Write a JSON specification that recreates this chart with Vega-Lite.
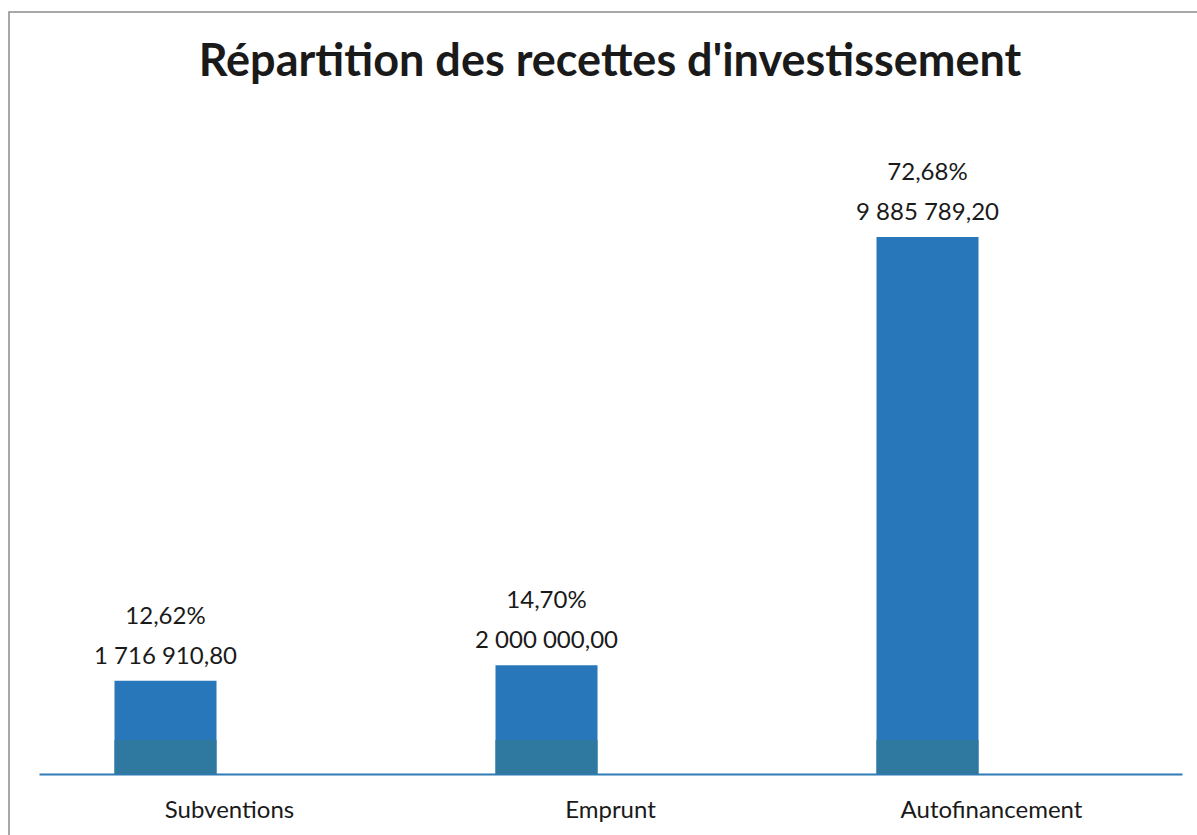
{
  "$schema": "https://vega.github.io/schema/vega-lite/v6.json",
  "width": 1197,
  "height": 835,
  "autosize": {"type": "fit", "contains": "padding"},
  "padding": {"left": 9, "top": 12, "right": -6, "bottom": -6},
  "background": "white",
  "config": {
    "view": {"stroke": "#8c8c8c", "strokeWidth": 1.5},
    "font": "Lato",
    "locale": {"number": {"decimal": ",", "thousands": " ", "grouping": [3], "currency": ["", ""]}}
  },
  "title": {
    "text": "Répartition des recettes d'investissement",
    "font": "Lato",
    "fontSize": 45,
    "fontWeight": "bold",
    "color": "#1a1a1a",
    "anchor": "middle",
    "orient": "top",
    "frame": "group",
    "baseline": "alphabetic",
    "offset": -109,
    "dx": 4
  },
  "data": {
    "values": [
      {"poste": "Subventions", "montant": 1716910.8, "part": 0.1262},
      {"poste": "Emprunt", "montant": 2000000.0, "part": 0.1470},
      {"poste": "Autofinancement", "montant": 9885789.2, "part": 0.7268}
    ]
  },
  "encoding": {
    "x": {
      "field": "poste",
      "type": "nominal",
      "sort": ["Subventions", "Emprunt", "Autofinancement"],
      "scale": {"range": [30, 1173], "paddingInner": 0, "paddingOuter": 0},
      "axis": {
        "title": null,
        "ticks": false,
        "grid": false,
        "labelAngle": 0,
        "labelFont": "Lato",
        "labelFontSize": 24,
        "labelColor": "#1a1a1a",
        "labelPadding": 24,
        "labelLimit": 0,
        "domainColor": "#2f7bb5",
        "domainWidth": 2,
        "offset": -67
      }
    }
  },
  "layer": [
    {
      "mark": {"type": "bar", "width": 102, "xOffset": -64, "color": "#2877bb"},
      "encoding": {
        "y": {
          "field": "montant",
          "type": "quantitative",
          "scale": {"domain": [0, 9885789.2], "range": [762, 225], "nice": false, "zero": true},
          "axis": null
        }
      }
    },
    {
      "mark": {"type": "bar", "width": 102, "xOffset": -64, "color": "#2f789f"},
      "encoding": {"y": {"datum": 626000, "type": "quantitative"}}
    },
    {
      "mark": {"type": "text", "dx": -64, "dy": -17, "baseline": "alphabetic", "align": "center", "fontSize": 24, "font": "Lato", "color": "#1a1a1a"},
      "encoding": {
        "y": {"field": "montant", "type": "quantitative"},
        "text": {"field": "montant", "type": "quantitative", "format": ",.2f"}
      }
    },
    {
      "mark": {"type": "text", "dx": -64, "dy": -57, "baseline": "alphabetic", "align": "center", "fontSize": 24, "font": "Lato", "color": "#1a1a1a"},
      "encoding": {
        "y": {"field": "montant", "type": "quantitative"},
        "text": {"field": "part", "type": "quantitative", "format": ".2%"}
      }
    }
  ]
}
